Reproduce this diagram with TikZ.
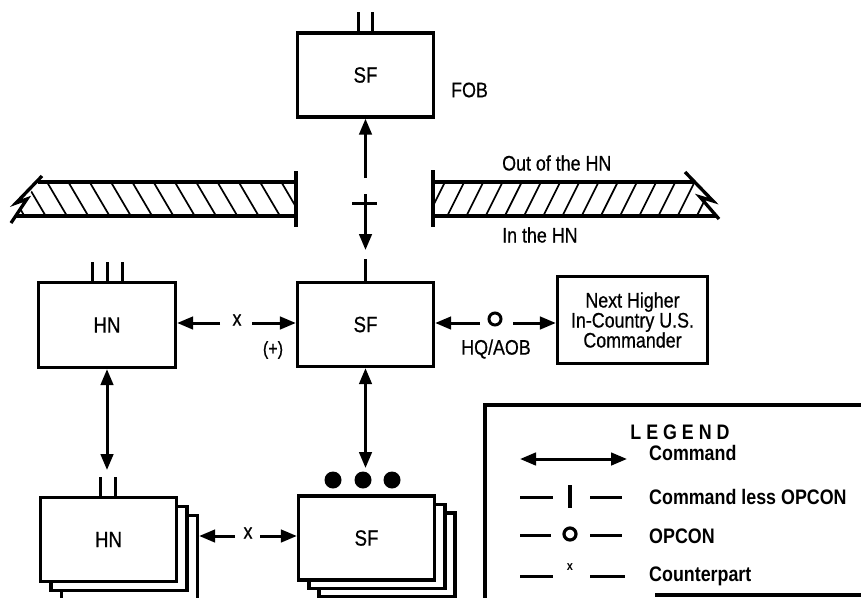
\documentclass[tikz,border=0pt]{standalone}
\usepackage{fontspec}
\setmainfont[FakeStretch=0.85,FakeBold=0.6]{Liberation Sans}
\newfontfamily\legfam[FakeStretch=0.85]{Liberation Sans}
\usetikzlibrary{arrows.meta,calc}
\newcommand\lblfont{\fontsize{21}{20}\selectfont}
\newcommand\boxfont{\fontsize{22}{22}\selectfont}
\newcommand\smallfont{\fontsize{19}{19}\selectfont}
\newcommand\tinyfont{\legfam\fontsize{13}{13}\selectfont\bfseries}
\newcommand\legfont{\legfam\fontsize{21}{20}\selectfont\bfseries}
\begin{document}
\begin{tikzpicture}[x=1pt,y=-1pt,
  box/.style={draw,line width=3.3pt,rectangle,inner sep=0pt,fill=white,
    minimum width=136pt,minimum height=84pt,font=\boxfont},
  conn/.style={line width=3pt},
  tip/.tip={Triangle[length=16pt,width=12.5pt]},
  arr/.style={conn,-tip},
  darr/.style={conn,tip-tip},
  bar/.style={line width=3.3pt},
  hatch/.style={line width=1.7pt},
  lbl/.style={font=\lblfont,inner sep=0pt},
  leg/.style={font=\legfont,inner sep=0pt,anchor=west},
  tick/.style={line width=3pt}
]
\useasboundingbox (0,0) rectangle (861,597);

% ---------- top SF (FOB)
\node[box] (sfTop) at (365.5,75) {SF};
\coordinate (tt1) at (358,12); \coordinate (tt2) at (372,12);
\draw[tick] (tt1) -- (tt1 |- sfTop.north);
\draw[tick] (tt2) -- (tt2 |- sfTop.north);
\node[lbl,anchor=west] (fob) at (451,90) {FOB};

% ---------- hatched border bars
\begin{scope}
  \clip (14,216) -- (38,182) -- (296,182) -- (296,216) -- cycle;
  \foreach \k in {-3,...,13} \draw[hatch] ({47+21.3*\k},182) -- ++(20,34);
\end{scope}
\draw[bar] (38,182) -- (296,182);
\draw[bar] (15,216) -- (296,216);
\draw[bar] (296,171) -- (296,227);
\draw[bar,line join=miter] (42,176) -- (16,203) -- (27,199) -- (11,223);

\begin{scope}
  \clip (433,182) -- (695,182) -- (716,216) -- (433,216) -- cycle;
  \foreach \k in {-2,...,15} \draw[hatch] ({445+19.2*\k},182) -- ++(-17,34);
\end{scope}
\draw[bar] (433,182) -- (694,182);
\draw[bar] (433,216) -- (716,216);
\draw[bar] (433,170) -- (433,227);
\draw[bar,line join=miter] (685,172) -- (713,201) -- (700,197) -- (719,219);

\node[lbl,anchor=west] (outHN) at (502,163) {Out of the HN};
\node[lbl,anchor=west] (inHN) at (502,235) {In the HN};

% ---------- middle row
\node[box] (sfMid) at (365.5,324.5) {SF};
\node[box,minimum width=137pt,minimum height=85pt] (hnMid) at (107,325) {HN};
\node[box,minimum width=150pt,minimum height=87pt,align=center,
  font=\fontsize{21}{20}\selectfont] (next) at (632.5,320)
  {Next Higher\\In-Country U.S.\\Commander};

\coordinate (ht1) at (92,262); \coordinate (ht2) at (107,262); \coordinate (ht3) at (122,262);
\draw[tick] (ht1) -- (ht1 |- hnMid.north);
\draw[tick] (ht2) -- (ht2 |- hnMid.north);
\draw[tick] (ht3) -- (ht3 |- hnMid.north);

% vertical command-less-OPCON link between the two SF
\coordinate (tA) at (365.5,178);
\draw[arr] (tA) -- (sfTop.south);
\coordinate (cT) at (365.5,194); \coordinate (cB) at (365.5,250);
\draw[arr] (cT) -- (cB);
\coordinate (cL) at (352,203); \coordinate (cR) at (377,203);
\draw[conn] (cL) -- (cR);
\coordinate (tk) at (365.5,259);
\draw[tick] (tk) -- (sfMid.north);

% counterpart link HN - SF
\node[lbl] (xa) at (237,320) {x};
\coordinate (xaL) at (220,323); \coordinate (xaR) at (252,323);
\draw[arr] (xaL) -- (xaL -| hnMid.east);
\draw[arr] (xaR) -- (xaR -| sfMid.west);
\node[font=\smallfont,inner sep=0pt] (plus) at (273,350) {(+)};

% OPCON link SF - next higher
\node[circle,draw,line width=3pt,minimum size=12pt,inner sep=0pt] (ocirc) at (495,319) {};
\coordinate (ogL) at (480,323); \coordinate (ogR) at (513,323);
\draw[arr] (ogL) -- (ogL -| sfMid.east);
\draw[arr] (ogR) -- (ogR -| next.west);
\node[lbl] (hq) at (496,349) {HQ/AOB};

% ---------- bottom row (stacks)
\node[box] (hnBot3) at (129.5,557.5) {};
\node[box] (hnBot2) at (119,548.5) {};
\node[box] (hnBot) at (108.5,539.5) {HN};
\node[box] (sfBot3) at (387,555) {};
\node[box] (sfBot2) at (377,546.5) {};
\node[box] (sfBot) at (366.5,538) {SF};

\coordinate (bt1) at (100,477); \coordinate (bt2) at (115,477);
\draw[tick] (bt1) -- (bt1 |- hnBot.north);
\draw[tick] (bt2) -- (bt2 |- hnBot.north);

\coordinate (hnArrB) at (107,470);
\draw[darr] (hnMid.south) -- (hnArrB);
\coordinate (sfArrB) at (365.5,468);
\draw[darr] (sfMid.south) -- (sfArrB);

\fill (333,480) circle (8.5);
\fill (363,480) circle (8.5);
\fill (392,480) circle (8.5);

\node[lbl] (xb) at (248,533) {x};
\coordinate (xbL) at (235,536); \coordinate (xbR) at (260,536);
\draw[arr] (xbL) -- (xbL -| hnBot3.east);
\draw[arr] (xbR) -- (xbR -| sfBot.west);

% ---------- legend
\draw[bar] (870,405) -- (485,405) -- (485,600);
\draw[bar] (655,595) -- (870,595);
\node[font=\legfont,inner sep=0pt] (legT) at (680,432) {L E G E N D};

\coordinate (lc1) at (520,459); \coordinate (lc2) at (627,459);
\draw[darr] (lc1) -- (lc2);
\node[leg] (l1) at (649,453) {Command};

\coordinate (lb1) at (520,497); \coordinate (lb2) at (553,497);
\coordinate (lb3) at (590,497); \coordinate (lb4) at (622,497);
\draw[conn] (lb1) -- (lb2); \draw[conn] (lb3) -- (lb4);
\coordinate (lbT) at (570,485); \coordinate (lbB) at (570,508);
\draw[line width=4pt] (lbT) -- (lbB);
\node[leg] (l2) at (649,497) {Command less OPCON};

\coordinate (lo1) at (520,535); \coordinate (lo2) at (551,535);
\coordinate (lo3) at (590,535); \coordinate (lo4) at (622,535);
\draw[conn] (lo1) -- (lo2); \draw[conn] (lo3) -- (lo4);
\node[circle,draw,line width=3.2pt,minimum size=12pt,inner sep=0pt] (loc) at (570,534) {};
\node[leg] (l3) at (649,536) {OPCON};

\coordinate (lx1) at (520,576); \coordinate (lx2) at (553,576);
\coordinate (lx3) at (590,576); \coordinate (lx4) at (625,576);
\draw[conn] (lx1) -- (lx2); \draw[conn] (lx3) -- (lx4);
\node[font=\tinyfont,inner sep=0pt] (lxx) at (570,567) {x};
\node[leg] (l4) at (649,576) {Counterpart};
\end{tikzpicture}
\end{document}
